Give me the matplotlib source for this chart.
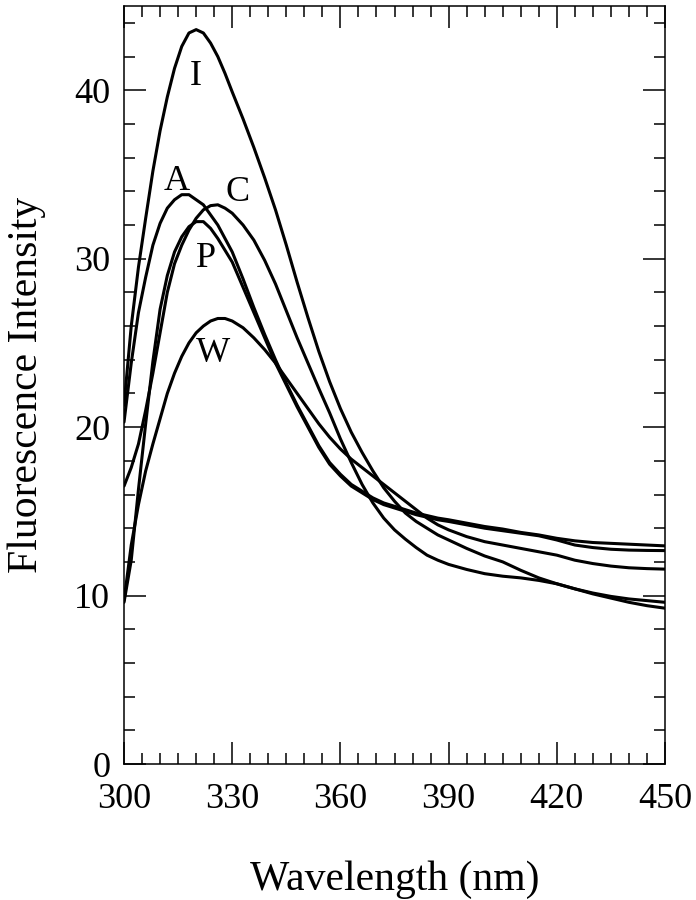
# Fluorescence emission spectra (I, A, C, P, W), 300-450 nm
import matplotlib
matplotlib.use("Agg")
import matplotlib.pyplot as plt
import matplotlib.ticker as mticker

# --- data ---
wavelength = [300, 302, 304, 306, 308, 310, 312, 314, 316, 318, 320, 322, 324, 326, 328,
              330, 333, 336, 339, 342, 345, 348, 351, 354, 357, 360, 363, 366, 369, 372,
              375, 378, 381, 384, 387, 390, 395, 400, 405, 410, 415, 420, 425, 430, 435,
              440, 445, 450]

curve_I = [21.3, 26.0, 29.5, 32.4, 35.2, 37.6, 39.6, 41.3, 42.6, 43.4, 43.6, 43.4, 42.8, 42.0, 41.0,
           39.9, 38.3, 36.6, 34.8, 32.9, 30.8, 28.6, 26.5, 24.5, 22.7, 21.1, 19.7, 18.5, 17.4, 16.4,
           15.6, 14.9, 14.4, 14.0, 13.6, 13.3, 12.8, 12.35, 12.0, 11.5, 11.05, 10.7, 10.4, 10.15, 9.95,
           9.8, 9.7, 9.6]

curve_A = [20.3, 23.8, 26.8, 28.9, 30.8, 32.1, 33.0, 33.5, 33.8, 33.8, 33.5, 33.2, 32.6, 32.0, 31.2,
           30.4, 28.8, 27.1, 25.5, 24.0, 22.6, 21.3, 20.1, 18.9, 17.9, 17.2, 16.6, 16.2, 15.8, 15.5,
           15.3, 15.1, 14.9, 14.75, 14.6, 14.5, 14.3, 14.1, 13.95, 13.75, 13.6, 13.4, 13.25, 13.15, 13.1,
           13.05, 13.0, 12.95]

curve_C = [16.5, 17.6, 19.0, 21.0, 23.2, 25.6, 28.0, 29.7, 30.8, 31.7, 32.4, 32.9, 33.15, 33.2, 33.0,
           32.7, 32.0, 31.1, 29.9, 28.5, 26.9, 25.3, 23.8, 22.3, 20.85, 19.3, 17.9, 16.6, 15.5, 14.6,
           13.9, 13.35, 12.85, 12.4, 12.1, 11.85, 11.55, 11.3, 11.15, 11.05, 10.9, 10.7, 10.4, 10.1, 9.85,
           9.6, 9.4, 9.25]

curve_P = [9.6, 12.1, 16.3, 20.2, 23.9, 27.0, 29.0, 30.4, 31.3, 31.9, 32.2, 32.2, 31.8, 31.2, 30.5,
           29.8, 28.3, 26.8, 25.3, 23.8, 22.5, 21.2, 20.0, 18.8, 17.8, 17.1, 16.5, 16.1, 15.7, 15.4,
           15.2, 15.0, 14.8, 14.65, 14.5, 14.4, 14.2, 14.0, 13.85, 13.7, 13.55, 13.3, 13.0, 12.85, 12.75,
           12.7, 12.68, 12.67]

curve_W = [9.7, 13.0, 15.4, 17.4, 19.0, 20.5, 22.0, 23.2, 24.2, 25.0, 25.6, 26.0, 26.3, 26.45, 26.45,
           26.3, 25.9, 25.3, 24.6, 23.8, 22.9, 22.0, 21.1, 20.2, 19.4, 18.7, 18.1, 17.6, 17.1, 16.6,
           16.1, 15.6, 15.1, 14.6, 14.2, 13.9, 13.5, 13.2, 13.0, 12.8, 12.6, 12.4, 12.1, 11.9, 11.75,
           11.65, 11.6, 11.57]

labels = ['I', 'A', 'C', 'P', 'W']
label_x = [319.9, 314.6, 331.4, 322.7, 324.6]
label_y = [40.8, 34.6, 33.9, 30.0, 24.4]

plt.rcParams['font.family'] = ['Liberation Serif', 'DejaVu Serif']

fig = plt.figure(figsize=(6.96, 9.0), dpi=100)
ax = fig.add_axes([0.1782, 0.1511, 0.7773, 0.8422])

for ys in [curve_I, curve_A, curve_C, curve_P, curve_W]:
    ax.plot(wavelength, ys, color='black', linewidth=2.2,
            solid_capstyle='round', solid_joinstyle='round')

for lab, lx, ly in zip(labels, label_x, label_y):
    ax.text(lx, ly, lab, fontsize=26, ha='center', va='center')

ax.set_xlim(300, 450)
ax.set_ylim(0, 45)
ax.xaxis.set_major_locator(mticker.MultipleLocator(30))
ax.xaxis.set_minor_locator(mticker.MultipleLocator(5))
ax.yaxis.set_major_locator(mticker.MultipleLocator(10))
ax.yaxis.set_minor_locator(mticker.MultipleLocator(2))

ax.tick_params(which='both', direction='in', top=True, right=True, width=1.1)
ax.tick_params(which='major', length=16, labelsize=26)
ax.tick_params(which='minor', length=8)
ax.tick_params(axis='x', which='major', pad=14)
ax.tick_params(axis='y', which='major', pad=10)
for sp in ax.spines.values():
    sp.set_linewidth(1.1)

ax.set_xlabel('Wavelength (nm)', fontsize=30, labelpad=32)
ax.set_ylabel('Fluorescence Intensity', fontsize=30, labelpad=20)

fig.savefig('out.png', dpi=100)
